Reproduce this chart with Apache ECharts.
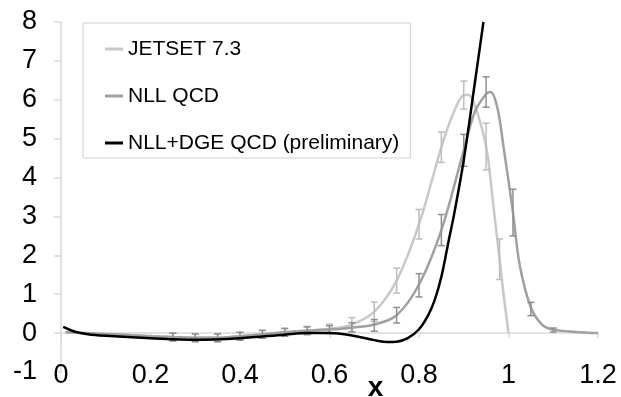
<!DOCTYPE html>
<html>
<head>
<meta charset="utf-8">
<script src="https://cdn.jsdelivr.net/npm/echarts@6.0.0/dist/echarts.min.js"></script>
<style>
  html, body { margin: 0; padding: 0; background: #fff; }
  #chart { width: 621px; height: 397px; }
</style>
</head>
<body>
<div id="chart"></div>
<script>
// Curves
const jetsetX = [0.01, 0.1, 0.2, 0.25, 0.3, 0.35, 0.4, 0.45, 0.5, 0.55, 0.6, 0.65, 0.7, 0.75, 0.8, 0.85, 0.875, 0.9, 0.91, 0.925, 0.95, 0.965, 0.98, 0.99, 1.0];
const jetsetY = [0.02, -0.02, -0.08, -0.1, -0.12, -0.12, -0.08, -0.03, 0.02, 0.07, 0.11, 0.22, 0.55, 1.35, 2.8, 4.78, 5.6, 6.12, 6.13, 5.85, 4.8, 3.4, 1.9, 0.9, 0];

const nllX = [0.01, 0.1, 0.2, 0.25, 0.3, 0.35, 0.4, 0.45, 0.5, 0.55, 0.6, 0.65, 0.7, 0.75, 0.8, 0.85, 0.9, 0.925, 0.95, 0.96, 0.975, 0.99, 1.01, 1.025, 1.05, 1.075, 1.1, 1.15, 1.2];
const nllY = [0.02, -0.02, -0.08, -0.1, -0.12, -0.12, -0.08, -0.03, 0.02, 0.06, 0.09, 0.14, 0.22, 0.46, 1.25, 2.65, 4.7, 5.7, 6.15, 6.2, 5.8, 4.7, 3.1, 1.75, 0.66, 0.22, 0.09, 0.03, 0];

const dgeX = [0.005, 0.03, 0.06, 0.1, 0.2, 0.3, 0.4, 0.5, 0.55, 0.6, 0.65, 0.7, 0.73, 0.75, 0.775, 0.8, 0.82, 0.835, 0.85, 0.865, 0.88, 0.9, 0.925, 0.944];
const dgeY = [0.16, 0.04, -0.03, -0.07, -0.13, -0.17, -0.13, -0.04, 0.0, 0.0, -0.06, -0.18, -0.23, -0.22, -0.13, 0.1, 0.45, 0.85, 1.45, 2.3, 3.15, 4.45, 6.45, 8.0];

// Error bars: centre and half-width
const jetsetErrX = [0.25, 0.3, 0.35, 0.4, 0.45, 0.5, 0.55, 0.6, 0.65, 0.7, 0.75, 0.8, 0.85, 0.9, 0.95, 0.98];
const jetsetErrY = [-0.1, -0.12, -0.12, -0.08, -0.03, 0.02, 0.07, 0.11, 0.22, 0.55, 1.35, 2.8, 4.78, 6.12, 4.8, 1.9];
const jetsetErr = [0.1, 0.1, 0.1, 0.1, 0.1, 0.1, 0.1, 0.12, 0.18, 0.25, 0.32, 0.38, 0.39, 0.36, 0.6, 0.52];

const nllErrX = [0.25, 0.3, 0.35, 0.4, 0.45, 0.5, 0.55, 0.6, 0.65, 0.7, 0.75, 0.8, 0.85, 0.9, 0.95, 1.01, 1.05, 1.1];
const nllErrY = [-0.1, -0.12, -0.12, -0.08, -0.03, 0.02, 0.06, 0.09, 0.15, 0.2, 0.46, 1.23, 2.65, 4.7, 6.2, 3.1, 0.62, 0.08];
const nllErr = [0.1, 0.1, 0.1, 0.1, 0.1, 0.1, 0.1, 0.1, 0.12, 0.15, 0.2, 0.3, 0.4, 0.41, 0.39, 0.6, 0.17, 0.05];

const xTicks = { min: 0, max: 1.2, interval: 0.2 };
const yTicks = { min: -1, max: 8, interval: 1 };

const FONT = "'Liberation Sans', Arial, sans-serif";

const zip = (xs, ys) => xs.map((x, i) => [x, ys[i]]);

// Vertical bar with small caps, placed through the axes
const errorBars = (name, xs, ys, errs, color) => ({
  type: 'custom',
  name: name,
  z: 3,
  encode: { x: 0, y: [1, 2] },
  data: xs.map((x, i) => [x, ys[i] - errs[i], ys[i] + errs[i]]),
  renderItem: (params, api) => {
    const lo = api.coord([api.value(0), api.value(1)]);
    const hi = api.coord([api.value(0), api.value(2)]);
    const w = 3.5;
    const style = { stroke: color, lineWidth: 1.5 };
    return {
      type: 'group',
      children: [
        { type: 'line', shape: { x1: lo[0], y1: lo[1], x2: hi[0], y2: hi[1] }, style },
        { type: 'line', shape: { x1: lo[0] - w, y1: lo[1], x2: lo[0] + w, y2: lo[1] }, style },
        { type: 'line', shape: { x1: hi[0] - w, y1: hi[1], x2: hi[0] + w, y2: hi[1] }, style },
      ],
    };
  },
});

const curve = (name, xs, ys, color, width, z) => ({
  name: name,
  type: 'line',
  data: zip(xs, ys),
  smooth: 0.35,
  symbol: 'none',
  z: z,
  lineStyle: { color: color, width: width },
  itemStyle: { color: color },
});

const chart = echarts.init(document.getElementById('chart'), null, { renderer: 'canvas' });

chart.setOption({
  animation: false,
  textStyle: { fontFamily: FONT },
  grid: { left: 61, right: 23, top: 22, bottom: 25, containLabel: false, outerBoundsMode: 'none' },
  legend: {
    data: ['JETSET 7.3', 'NLL QCD', 'NLL+DGE QCD (preliminary)'],
    orient: 'vertical',
    left: 83,
    top: 23,
    padding: [14, 11, 3, 22],
    itemGap: 23,
    icon: 'rect',
    itemWidth: 18,
    itemHeight: 3,
    borderColor: '#d0d0d0',
    borderWidth: 1,
    backgroundColor: '#fff',
    textStyle: { fontFamily: FONT, fontSize: 21, color: '#000', lineHeight: 24 },
  },
  xAxis: [
    {
      // labels sit at the bottom, level with -1
      type: 'value',
      position: 'bottom',
      offset: -10,
      min: xTicks.min,
      max: xTicks.max,
      interval: xTicks.interval,
      name: 'x',
      nameLocation: 'middle',
      nameGap: 12,
      nameMoveOverlap: false,
      nameTextStyle: { fontFamily: FONT, fontSize: 28, fontWeight: 'bold', color: '#000', padding: [0, 0, 0, 92] },
      axisLine: { show: false, onZero: false },
      axisTick: { show: false },
      splitLine: { show: false },
      axisLabel: { fontFamily: FONT, fontSize: 27, color: '#000', margin: 0 },
    },
    {
      // the y = 0 line with its ticks
      type: 'value',
      position: 'bottom',
      min: xTicks.min,
      max: xTicks.max,
      interval: xTicks.interval,
      axisLine: { show: true, onZero: true, lineStyle: { color: '#d9d9d9', width: 1.5 } },
      axisTick: { show: true, length: 5, lineStyle: { color: '#d9d9d9', width: 1.5 } },
      axisLabel: { show: false },
      splitLine: { show: false },
    },
  ],
  yAxis: {
    type: 'value',
    min: yTicks.min,
    max: yTicks.max,
    interval: yTicks.interval,
    axisLine: { show: true, onZero: false, lineStyle: { color: '#d9d9d9', width: 1.5 } },
    axisTick: { show: true, length: 7, lineStyle: { color: '#d9d9d9', width: 1.5 } },
    splitLine: { show: false },
    axisLabel: { fontFamily: FONT, fontSize: 27, color: '#000', margin: 24 },
  },
  series: [
    curve('JETSET 7.3', jetsetX, jetsetY, '#c8c8c8', 2.5, 2),
    curve('NLL QCD', nllX, nllY, '#a0a0a0', 2.5, 2),
    errorBars('jetset-err', jetsetErrX, jetsetErrY, jetsetErr, '#bdbdbd'),
    errorBars('nll-err', nllErrX, nllErrY, nllErr, '#8f8f8f'),
    curve('NLL+DGE QCD (preliminary)', dgeX, dgeY, '#000000', 2.5, 4),
  ],
});
</script>
</body>
</html>
